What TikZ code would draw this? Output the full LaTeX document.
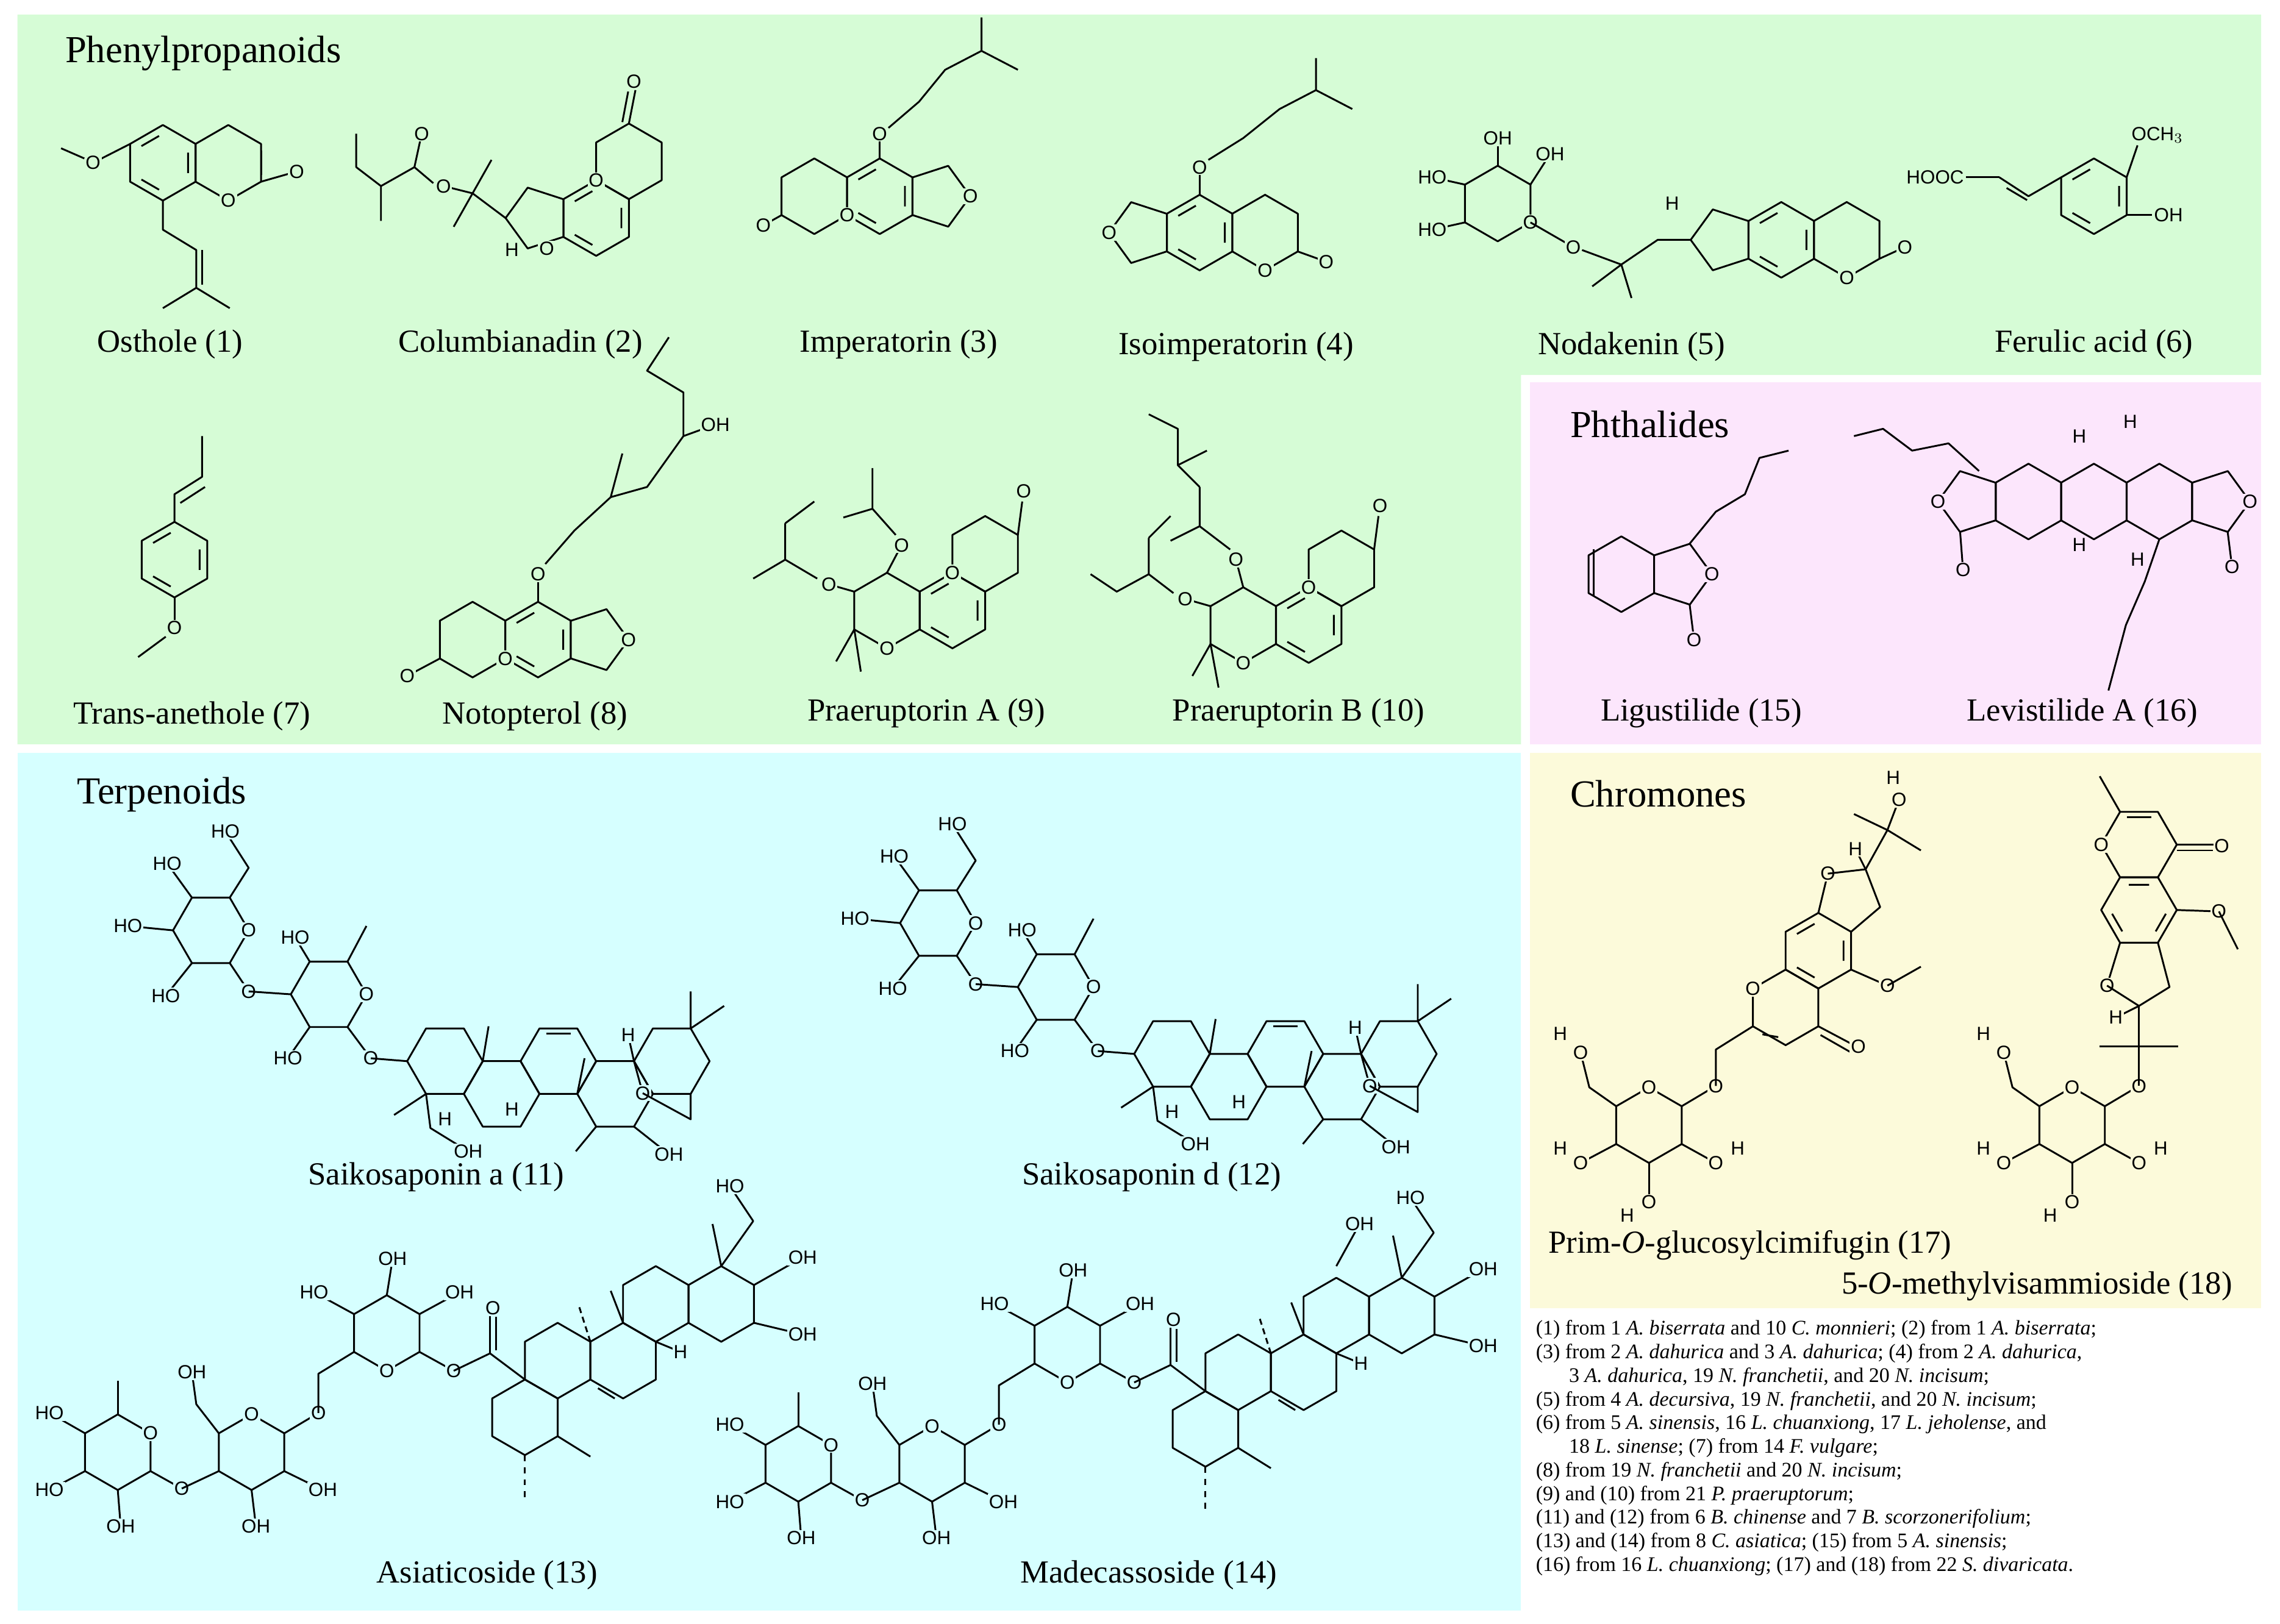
\documentclass[tikz,border=0pt]{standalone}
\usepackage{fontspec}
\setmainfont{Liberation Serif}
\setsansfont{Liberation Sans}
\usetikzlibrary{calc}
\definecolor{pgreen}{RGB}{214,252,214}
\definecolor{ppink}{RGB}{252,230,252}
\definecolor{pcyan}{RGB}{214,255,255}
\definecolor{pyel}{RGB}{252,250,218}
\colorlet{bgcol}{pgreen}
\tikzset{bond/.style={line width=0.9pt,line join=round},
 atom/.style={font=\sffamily\fontsize{9.5}{10}\selectfont,inner sep=0.6pt,fill=bgcol},
 lbl/.style={font=\fontsize{16}{18}\selectfont,anchor=base},
 ttl/.style={font=\fontsize{19}{21}\selectfont,anchor=base west}}
\newcommand\hexa[2]{\draw[bond,shift={(#1,#2)}] (30:26)--(90:26)--(150:26)--(210:26)--(270:26)--(330:26)--cycle;}
\newcommand\fhexa[2]{\draw[bond,shift={(#1,#2)}] (0:26)--(60:26)--(120:26)--(180:26)--(240:26)--(300:26)--cycle;}
\newcommand\arom[2]{\hexa{#1}{#2}\draw[bond,shift={(#1,#2)}] ($(90:20)!0.15!(150:20)$)--($(90:20)!0.85!(150:20)$) ($(210:20)!0.15!(270:20)$)--($(210:20)!0.85!(270:20)$) ($(330:20)!0.15!(30:20)$)--($(330:20)!0.85!(30:20)$);}
\newcommand\farom[2]{\fhexa{#1}{#2}\draw[bond,shift={(#1,#2)}] ($(0:20)!0.15!(60:20)$)--($(0:20)!0.85!(60:20)$) ($(120:20)!0.15!(180:20)$)--($(120:20)!0.85!(180:20)$) ($(240:20)!0.15!(300:20)$)--($(240:20)!0.85!(300:20)$);}
\newcommand\penta[3]{\draw[bond,shift={(#1,#2)},rotate=#3] (0:22)--(72:22)--(144:22)--(216:22)--(288:22)--cycle;}
\newcommand\sugar[2]{\hexa{#1}{#2}
 \draw[bond] (#1-22.5,#2-13)--(#1-45,#2-18) node[atom]{HO};
 \draw[bond] (#1-22.5,#2+13)--(#1-45,#2+18) node[atom]{HO};
 \draw[bond] (#1,#2-26)--(#1,#2-45) node[atom]{OH};
 \draw[bond] (#1+22.5,#2-13)--(#1+36,#2-34) node[atom]{OH};
 \node[atom] at (#1+22.5,#2+13) {O};}
\newcommand\chsug[2]{\hexa{#1}{#2}
 \draw[bond] (#1-22.5,#2-13)--(#1-41,#2-26)--(#1-47,#2-50) node[atom]{O}; \node[atom] at (#1-61,#2-63){H};
 \draw[bond] (#1-22.5,#2+13)--(#1-47,#2+26) node[atom]{O}; \node[atom] at (#1-61,#2+16){H};
 \draw[bond] (#1,#2+26)--(#1,#2+53) node[atom]{O}; \node[atom] at (#1-15,#2+62){H};
 \draw[bond] (#1+22.5,#2+13)--(#1+46,#2+26) node[atom]{O}; \node[atom] at (#1+61,#2+16){H};
 \node[atom] at (#1,#2-26){O};}
\newcommand\dbl[4]{\draw[bond] ($(#1,#2)!0.18!(#3,#4)$)--($(#1,#2)!0.82!(#3,#4)$);}
\begin{document}
\begin{tikzpicture}[x=0.0254cm,y=-0.0254cm]
\useasboundingbox (0,0) rectangle (1568,1117);
\fill[pgreen] (12,10) -- (1555,10) -- (1555,258) -- (1046,258) -- (1046,512) -- (12,512) -- cycle;
\fill[ppink] (1052,263) rectangle (1555,512);
\fill[pcyan] (12,518) rectangle (1046,1108);
\fill[pyel] (1052,518) rectangle (1555,900);
\node[ttl] (t1) at (40,43) {Phenylpropanoids};
\node[ttl] (t2) at (1075,301) {Phthalides};
\node[ttl] (t3) at (48,553) {Terpenoids};
\node[ttl] (t4) at (1075,555) {Chromones};
% ---------- 1 Osthole
\arom{112}{112}\hexa{157}{112}
\draw[bond] (89.5,99)--(64,112) node[atom]{O}; \draw[bond] (58,109)--(42,102);
\dbl{179.5}{99}{179.5}{125}
\draw[bond] (179.5,125)--(204,118) node[atom]{O};
\draw[bond] (112,138)--(112,158)--(135,172)--(135,198)--(112,212) (135,198)--(158,212);
\draw[bond] (139,172)--(139,196);
\node[atom] at (157,138) {O};
\node[lbl] (l1) at (117,242) {Osthole (1)};
% ---------- 2 Columbianadin
\arom{410}{150}\hexa{432.5}{111}\penta{369.7}{150}{180}
\dbl{455}{98}{455}{124}
\draw[bond] (432.5,85)--(437,62); \draw[bond] (428,84)--(432,63); \node[atom] at (436,56) {O};
\node[atom] at (410,124) {O}; \node[atom] at (376,171) {O};
\draw[bond] (347.7,150)--(325,133)--(305,128) node[atom]{O}; \draw[bond] (325,133)--(338,110) (325,133)--(312,156);
\draw[bond] (298,126)--(285,115)--(290,92) node[atom]{O}; \draw[bond] (285,115)--(262,128)--(262,152) (262,128)--(245,115)--(245,92);
\node[atom] at (352,172) {H};
\node[lbl] (l2) at (358,242) {Columbianadin (2)};
% ---------- 3 Imperatorin
\hexa{560}{135}\arom{605}{135}\penta{645.3}{135}{0}
\node[atom] at (582.5,148) {O}; \draw[bond] (537.5,148)--(525,155) node[atom]{O};
\draw[bond] (605,109)--(605,92) node[atom]{O}; \draw[bond] (611,88)--(632,70)--(650,48)--(675,35)--(700,48) (675,35)--(675,12);
\node[atom] at (667.3,135) {O};
\node[lbl] (l3) at (618,242) {Imperatorin (3)};
% ---------- 4 Isoimperatorin
\penta{784.7}{160}{180}\arom{825}{160}\hexa{870}{160}
\draw[bond] (825,134)--(825,115) node[atom]{O}; \draw[bond] (831,110)--(855,95)--(880,75)--(905,62)--(930,75) (905,62)--(905,40);
\node[atom] at (870,186) {O}; \draw[bond] (892.5,173)--(912,180) node[atom]{O};
\node[atom] at (762.7,160) {O};
\node[lbl] (l4) at (850,244) {Isoimperatorin (4)};
% ---------- 5 Nodakenin
\sugar{1030}{140}
\draw[bond] (1052.5,153)--(1082,170) node[atom]{O}; \draw[bond] (1088,172)--(1115,182)--(1140,165)--(1162.7,165) (1115,182)--(1122,205) (1115,182)--(1095,197);
\penta{1184.7}{165}{180}\arom{1225}{165}\hexa{1270}{165}
\node[atom] at (1270,191) {O}; \draw[bond] (1292.5,178)--(1310,170) node[atom]{O};
\node[atom] at (1150,140) {H};
\node[lbl] (l5) at (1122,244) {Nodakenin (5)};
% ---------- 6 Ferulic acid
\arom{1440}{135}
\draw[bond] (1417.5,122)--(1395,135)--(1375,122); \dbl{1398}{140}{1376}{127}
\draw[bond] (1375,122)--(1352,122) node[atom,anchor=east]{HOOC};
\draw[bond] (1462.5,122)--(1470,100) node[atom,anchor=south west,xshift=-4]{OCH$_3$};
\draw[bond] (1462.5,148)--(1480,148) node[atom,anchor=west]{OH};
\node[lbl] (l6) at (1440,242) {Ferulic acid (6)};
% ---------- 7 Trans-anethole
\arom{120}{385}
\draw[bond] (120,359)--(120,340)--(139,328)--(139,300); \draw[bond] (124,346)--(141,335);
\draw[bond] (120,411)--(120,432) node[atom]{O}; \draw[bond] (114,438)--(95,452);
\node[lbl] (l7) at (132,498) {Trans-anethole (7)};
% ---------- 8 Notopterol
\hexa{325}{440}\arom{370}{440}\penta{410.3}{440}{0}
\node[atom] at (347.5,453) {O}; \draw[bond] (302.5,453)--(280,465) node[atom]{O};
\draw[bond] (370,414)--(370,395) node[atom]{O}; \draw[bond] (375,388)--(395,365)--(420,342)--(445,335)--(470,300) (420,342)--(428,312) (470,300)--(470,270)--(445,255)--(460,232) (470,300)--(492,292) node[atom]{OH};
\node[atom] at (432.3,440) {O};
\node[lbl] (l8) at (368,498) {Notopterol (8)};
% ---------- 9 Praeruptorin A
\hexa{610}{420}\arom{655}{420}\hexa{677.5}{381}
\draw[bond] (700,368)--(703,345); \node[atom] at (704,338) {O};
\node[atom] at (655,394) {O}; \node[atom] at (610,446) {O};
\draw[bond] (587.5,407)--(570,402) node[atom]{O}; \draw[bond] (562,398)--(540,385)--(540,360) (540,385)--(518,398) (540,360)--(560,345);
\draw[bond] (610,394)--(620,375) node[atom]{O}; \draw[bond] (616,368)--(600,350)--(600,322) (600,350)--(580,356);
\draw[bond] (587.5,433)--(575,455) (587.5,433)--(592,462);
\node[lbl] (l9) at (637,496) {Praeruptorin A (9)};
% ---------- 10 Praeruptorin B
\hexa{855}{430}\arom{900}{430}\hexa{922.5}{391}
\draw[bond] (945,378)--(948,355); \node[atom] at (949,348) {O};
\node[atom] at (900,404) {O}; \node[atom] at (855,456) {O};
\draw[bond] (832.5,417)--(815,412) node[atom]{O}; \draw[bond] (807,408)--(790,395)--(790,370) (790,395)--(768,407)--(750,395) (790,370)--(805,355);
\draw[bond] (855,404)--(850,385) node[atom]{O}; \draw[bond] (846,378)--(825,362)--(825,335) (825,362)--(805,372) (825,335)--(810,320)--(810,295)--(790,285) (810,320)--(830,310);
\draw[bond] (832.5,443)--(820,465) (832.5,443)--(838,473);
\node[lbl] (l10) at (893,496) {Praeruptorin B (10)};
% ---------- Phthalides
\colorlet{bgcol}{ppink}
\hexa{1115}{395}\penta{1155.3}{395}{0}
\node[atom] at (1177.3,395) {O}; \draw[bond] (1162,416)--(1165,440) node[atom]{O};
\draw[bond] (1162,374)--(1180,352)--(1200,340)--(1210,315)--(1230,310);
\draw[bond] (1096,378)--(1096,410);
\node[lbl] (l15) at (1170,496) {Ligustilide (15)};
\hexa{1395}{345}\hexa{1440}{345}\hexa{1485}{345}\penta{1354.7}{345}{180}\penta{1525.3}{345}{0}
\node[atom] at (1332.7,345) {O}; \draw[bond] (1348,366)--(1350,392) node[atom]{O};
\draw[bond] (1361,324)--(1340,305)--(1315,310)--(1295,295)--(1275,300);
\node[atom] at (1547.3,345) {O}; \draw[bond] (1532,366)--(1535,390) node[atom]{O};
\draw[bond] (1485,371)--(1475,400)--(1462,430)--(1450,475);
\node[atom] at (1430,300) {H};\node[atom] at (1465,290) {H};\node[atom] at (1430,375) {H};\node[atom] at (1470,385) {H};
\node[lbl] (l16) at (1432,496) {Levistilide A (16)};
% ---------- Terpenoids
\colorlet{bgcol}{pcyan}
\foreach \sx/\sy in {0/0,500/-5}{
\begin{scope}[shift={(\sx,\sy)}]
\fhexa{145}{640}\node[atom] at (171,640) {O};
\draw[bond] (158,617.5)--(171,597)--(155,572) node[atom]{HO};
\draw[bond] (132,617.5)--(115,594) node[atom]{HO};
\draw[bond] (119,640)--(88,637) node[atom]{HO};
\draw[bond] (132,662.5)--(114,685) node[atom]{HO};
\draw[bond] (158,662.5)--(171,682) node[atom]{O}; \draw[bond] (171,682)--(200,684);
\fhexa{226}{684}\node[atom] at (252,684) {O};
\draw[bond] (213,661.5)--(203,645) node[atom]{HO};
\draw[bond] (239,661.5)--(252,637);
\draw[bond] (213,706.5)--(198,728) node[atom]{HO};
\draw[bond] (239,706.5)--(255,728) node[atom]{O}; \draw[bond] (255,728)--(280,730);
\fhexa{306}{730}\fhexa{345}{752.5}\fhexa{384}{730}\fhexa{423}{752.5}\fhexa{462}{730}
\dbl{371}{711}{397}{711}
\draw[bond] (332,730)--(336,706) (397,752.5)--(402,728);
\draw[bond] (293,752.5)--(271,767) (293,752.5)--(296,776)--(322,792) node[atom]{OH};
\node[atom] at (306,770) {H}; \node[atom] at (352,763) {H};
\draw[bond] (410,775)--(396,792);
\draw[bond] (436,730)--(432,712) node[atom]{H};
\draw[bond] (436,730)--(442,752) node[atom]{O}; \draw[bond] (442,752)--(475,770)--(475,752.5);
\draw[bond] (436,775)--(460,794) node[atom]{OH};
\draw[bond] (475,707.5)--(475,682) (475,707.5)--(498,692);
\end{scope}}
\node[lbl] (l11) at (300,815) {Saikosaponin a (11)};
\node[lbl] (l12) at (792,815) {Saikosaponin d (12)};
\foreach \sx/\sy in {0/0,468/8}{
\begin{scope}[shift={(\sx,\sy)}]
\hexa{81}{999}\node[atom] at (103.5,986) {O};
\draw[bond] (81,973)--(81,950);
\draw[bond] (58.5,986)--(34,972) node[atom]{HO};
\draw[bond] (58.5,1012)--(34,1025) node[atom]{HO};
\draw[bond] (81,1025)--(83,1050) node[atom]{OH};
\draw[bond] (103.5,1012)--(125,1024) node[atom]{O}; \draw[bond] (125,1024)--(150.5,1012);
\hexa{173}{999}\node[atom] at (173,973) {O};
\draw[bond] (150.5,986)--(135,966)--(132,944) node[atom]{OH};
\draw[bond] (195.5,986)--(219,972) node[atom]{O}; \draw[bond] (219,972)--(219,945)--(243.5,930);
\draw[bond] (173,1025)--(176,1050) node[atom]{OH};
\draw[bond] (195.5,1012)--(222,1025) node[atom]{OH};
\hexa{266}{917}\node[atom] at (266,943) {O};
\draw[bond] (243.5,904)--(216,889) node[atom]{HO};
\draw[bond] (266,891)--(270,866) node[atom]{OH};
\draw[bond] (288.5,904)--(316,889) node[atom]{OH};
\draw[bond] (288.5,930)--(312,943) node[atom]{O}; \draw[bond] (312,943)--(337,931)--(361,949);
\draw[bond] (337,931)--(337,904) (341,929)--(341,906); \node[atom] at (339,900) {O};
\hexa{361}{975}\hexa{383.5}{936}\hexa{428.5}{936}\hexa{451}{897}\hexa{496}{897}
\dbl{408}{953}{426}{964}
\draw[bond,dashed] (361,1001)--(361,1030);
\draw[bond] (383.5,988)--(406,1002);
\draw[bond,densely dashed] (406,923)--(398,898);
\draw[bond] (428.5,910)--(420,888);
\draw[bond] (451,923)--(468,930) node[atom]{H};
\draw[bond] (496,871)--(490,842) (496,871)--(518,840)--(502,816) node[atom]{HO};
\draw[bond] (518.5,884)--(552,865) node[atom]{OH};
\draw[bond] (518.5,910)--(552,918) node[atom]{OH};
\end{scope}}
\draw[bond] (919,871)--(935,842) node[atom]{OH};
\node[lbl] (l13) at (335,1089) {Asiaticoside (13)};
\node[lbl] (l14) at (790,1089) {Madecassoside (14)};
% ---------- Chromones
\colorlet{bgcol}{pyel}
\chsug{1134}{774}
\draw[bond] (1156.5,761)--(1180,747) node[atom]{O}; \draw[bond] (1180,747)--(1180,722)--(1205.5,706);
\hexa{1228}{693}\arom{1250.5}{654}
\node[atom] at (1205.5,680) {O};
\dbl{1209}{711}{1226}{714}
\draw[bond] (1250.5,706)--(1275,719); \draw[bond] (1252,712)--(1273,724); \node[atom] at (1278,720) {O};
\draw[bond] (1273,667)--(1298,678) node[atom]{O}; \draw[bond] (1298,678)--(1321,665);
\draw[bond] (1250.5,628)--(1257,601) node[atom]{O}; \draw[bond] (1257,601)--(1283,598)--(1293,624)--(1273,641);
\draw[bond] (1283,598)--(1298,571)--(1275,560) (1298,571)--(1321,585) (1298,571)--(1306,550) node[atom]{O};
\node[atom] at (1302,535) {H}; \draw[bond] (1283,598)--(1276,584) node[atom]{H};
\node[lbl,anchor=base west] (l17) at (1060,862) {Prim-\textit{O}-glucosylcimifugin (17)};
\chsug{1425}{774}
\draw[bond] (1447.5,761)--(1471,747) node[atom]{O}; \draw[bond] (1471,747)--(1471,720)--(1444,720) (1471,720)--(1498,720) (1471,720)--(1471,692);
\fhexa{1471}{581}\farom{1471}{626}
\node[atom] at (1445,581) {O};
\dbl{1458}{562}{1484}{562}
\draw[bond] (1458,558.5)--(1444,534);
\draw[bond] (1497,581)--(1526,581) (1497,585)--(1522,585); \node[atom] at (1528,582) {O};
\draw[bond] (1497,626)--(1526,627) node[atom]{O}; \draw[bond] (1526,627)--(1539,653);
\draw[bond] (1458,648.5)--(1449,678) node[atom]{O}; \draw[bond] (1449,678)--(1471,692)--(1492,679)--(1484,648.5);
\draw[bond] (1471,692)--(1455,700) node[atom]{H};
\node[lbl,anchor=base east] (l18) at (1540,890) {5-\textit{O}-methylvisammioside (18)};
% ---------- footnote
\node[anchor=north west,inner sep=0pt,font=\fontsize{10.3}{11.75}\selectfont,align=left] (fn) at (1056,908) {%
(1) from 1 \textit{A. biserrata} and 10 \textit{C. monnieri}; (2) from 1 \textit{A. biserrata};\\
(3) from 2 \textit{A. dahurica} and 3 \textit{A. dahurica}; (4) from 2 \textit{A. dahurica},\\
\hspace*{1.6em}3 \textit{A. dahurica}, 19 \textit{N. franchetii}, and 20 \textit{N. incisum};\\
(5) from 4 \textit{A. decursiva}, 19 \textit{N. franchetii}, and 20 \textit{N. incisum};\\
(6) from 5 \textit{A. sinensis}, 16 \textit{L. chuanxiong}, 17 \textit{L. jeholense}, and\\
\hspace*{1.6em}18 \textit{L. sinense}; (7) from 14 \textit{F. vulgare};\\
(8) from 19 \textit{N. franchetii} and 20 \textit{N. incisum};\\
(9) and (10) from 21 \textit{P. praeruptorum};\\
(11) and (12) from 6 \textit{B. chinense} and 7 \textit{B. scorzonerifolium};\\
(13) and (14) from 8 \textit{C. asiatica}; (15) from 5 \textit{A. sinensis};\\
(16) from 16 \textit{L. chuanxiong}; (17) and (18) from 22 \textit{S. divaricata}.};
\end{tikzpicture}
\end{document}
